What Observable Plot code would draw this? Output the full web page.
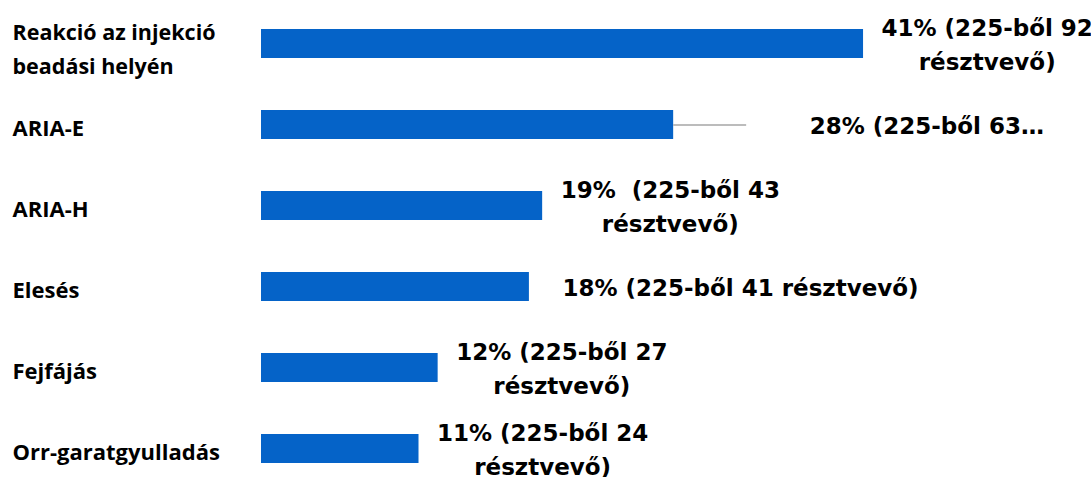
<!DOCTYPE html>
<html><head><meta charset="utf-8">
<script src="https://cdn.jsdelivr.net/npm/d3@7"></script>
<script src="https://cdn.jsdelivr.net/npm/@observablehq/plot@0.6"></script>
<style>html,body{margin:0;padding:0;background:#fff}</style>
</head><body><div id="chart"></div>
<script>
// ---- data ----
const categories = ["Reakció az injekció\nbeadási helyén", "ARIA-E", "ARIA-H", "Elesés", "Fejfájás", "Orr-garatgyulladás"];
const percentages = [40.9, 28.0, 19.1, 18.2, 12.0, 10.7];
const valueLabels = [
  "41% (225-ből 92\nrésztvevő)",
  "28% (225-ből 63…",
  "19%  (225-ből 43\nrésztvevő)",
  "18% (225-ből 41 résztvevő)",
  "12% (225-ből 27\nrésztvevő)",
  "11% (225-ből 24\nrésztvevő)"
];

// ---- style config ----
const barColor = "#0563c8";
const valueFont = {family: "DejaVu Sans", size: 23};
const catFont = {family: "Open Sans", size: 22, wrappedSize: 21.5};
const defaultGap = 18;
const labelGap = {"ARIA-E": 136, "Elesés": 33};
const leaderLen = {"ARIA-E": 73};

const data = categories.map((c, i) => ({cat: c, value: percentages[i], label: valueLabels[i]}));

const ctx = document.createElement("canvas").getContext("2d");
ctx.font = `bold ${valueFont.size}px "${valueFont.family}"`;
const blockWidth = s => Math.max(...s.split("\n").map(l => ctx.measureText(l).width));

const valueMarks = data.map(d => Plot.text([d], {
  y: "cat", x: "value", text: "label",
  textAnchor: "middle", lineAnchor: "middle",
  dx: (labelGap[d.cat] ?? defaultGap) + blockWidth(d.label) / 2,
  dy: -2,
  fontFamily: valueFont.family, fontSize: valueFont.size, fontWeight: "bold",
  lineHeight: 1.48, fill: "#000"
}));

const leaderMarks = data.filter(d => leaderLen[d.cat]).map(d => Plot.ruleY([d], {
  y: "cat", x1: "value", x2: "value", insetRight: -leaderLen[d.cat],
  stroke: "#a6a6a6", strokeWidth: 1.5
}));

const catMarks = data.map(d => {
  const wrapped = d.cat.includes("\n");
  return Plot.text([d], {
    y: "cat", text: "cat", frameAnchor: "left", textAnchor: "start", lineAnchor: "middle",
    dx: -249, dy: 2.5, fontFamily: catFont.family,
    fontSize: wrapped ? catFont.wrappedSize : catFont.size,
    fontWeight: "bold", lineHeight: wrapped ? 34 / catFont.wrappedSize : 1.2, fill: "#000"
  });
});

const chart = Plot.plot({
  width: 1091, height: 477,
  marginLeft: 261, marginRight: 94, marginTop: 28, marginBottom: 14,
  x: {domain: [0, 50], axis: null},
  y: {domain: categories, paddingInner: 0.643, paddingOuter: 0, axis: null},
  style: {background: "#fff"},
  marks: [
    Plot.barX(data, {y: "cat", x: "value", fill: barColor}),
    ...leaderMarks,
    ...catMarks,
    ...valueMarks
  ]
});
document.getElementById("chart").appendChild(chart);
</script>
</body></html>
